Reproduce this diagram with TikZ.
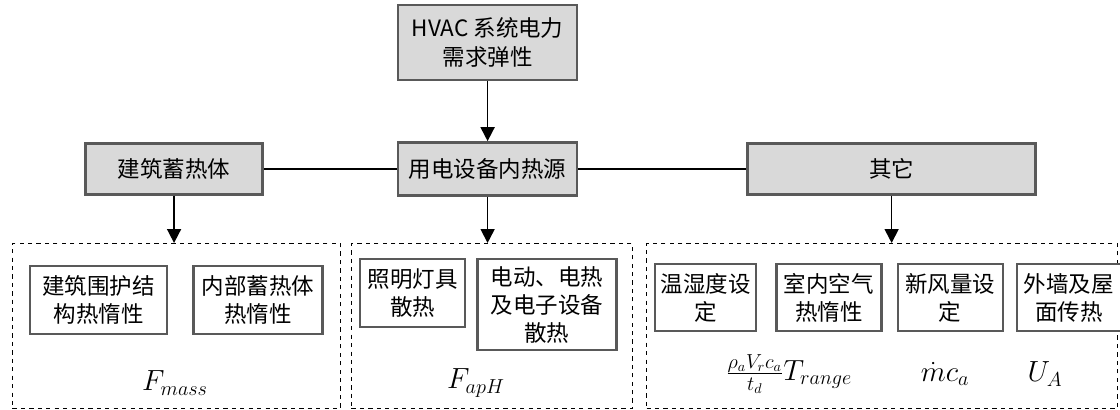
\documentclass[tikz,border=0pt]{standalone}
\usepackage[no-math]{fontspec}
\setmainfont{Noto Sans CJK SC}
\usetikzlibrary{arrows.meta, positioning}
\definecolor{boxgray}{HTML}{D9D9D9}
\definecolor{edgegray}{HTML}{595959}

\begin{document}
\begin{tikzpicture}[
    font=\fontsize{16}{20}\selectfont,
    header/.style={rectangle, draw=edgegray, fill=boxgray, line width=1.8pt, align=center, minimum height=1.275cm},
    factor/.style={rectangle, draw=edgegray, fill=white, line width=1.6pt, align=center, inner sep=2pt, minimum height=1.7cm},
    group/.style={rectangle, draw, dashed, line width=0.7pt, minimum height=4.125cm, anchor=north west},
    formula/.style={font=\fontsize{20}{24}\selectfont, inner sep=0pt},
    arrow/.style={-{Triangle[length=0.35cm, width=0.35cm]}, line width=1.2pt},
    link/.style={line width=1.2pt}
]
    \useasboundingbox (0,0) rectangle (28,-10.25);

    % Top level
    \node[header, minimum width=4.475cm, minimum height=1.875cm] (hvac) at (12.19,-1.06) {HVAC 系统电力\\需求弹性};
    \node[header, minimum width=4.475cm, minimum height=1.325cm, below=1.5cm of hvac] (inner) {用电设备内热源};
    \node[header, minimum width=4.425cm, left=3.325cm of inner] (store) {建筑蓄热体};
    \node[header, minimum width=7.2cm, right=4.2cm of inner] (other) {其它};

    % Groups
    \node[group, minimum width=8.2cm] (grpL) at (0.3,-6.075) {};
    \node[group, minimum width=7.025cm] (grpM) at (8.775,-6.075) {};
    \node[group, minimum width=11.775cm] (grpR) at (16.15,-6.075) {};

    % Left group: thermal mass
    \node[factor, minimum width=3.425cm, anchor=north west] (envelope) at ([shift={(0.425,-0.55)}]grpL.north west) {建筑围护结\\构热惰性};
    \node[factor, minimum width=3.225cm, right=0.6cm of envelope] (mass) {内部蓄热体\\热惰性};
    \node[formula] (fmass) at (4.375,-9.575) {$F_{mass}$};

    % Middle group: internal heat sources
    \node[factor, minimum width=2.625cm, anchor=north west] (light) at ([shift={(0.2,-0.375)}]grpM.north west) {照明灯具\\散热};
    \node[factor, minimum width=3.475cm, minimum height=2.275cm, right=0.25cm of light.north east, anchor=north west] (equip) {电动、电热\\及电子设备\\散热};
    \node[formula] (fapH) at (11.9,-9.575) {$F_{apH}$};

    % Right group: others
    \node[factor, minimum width=2.525cm, minimum height=1.675cm, anchor=north west] (setpt) at ([shift={(0.2,-0.5)}]grpR.north west) {温湿度设\\定};
    \node[factor, minimum width=2.625cm, minimum height=1.675cm, right=0.45cm of setpt] (air) {室内空气\\热惰性};
    \node[factor, minimum width=2.625cm, minimum height=1.675cm, right=0.35cm of air] (fresh) {新风量设\\定};
    \node[factor, minimum width=2.6cm, minimum height=1.675cm, right=0.3cm of fresh] (wall) {外墙及屋\\面传热};
    \node[formula] (fair) at (19.725,-9.35) {$\frac{\rho_a V_r c_a}{t_d}T_{range}$};
    \node[formula] (ffresh) at (23.625,-9.35) {$\dot{m}c_a$};
    \node[formula] (fwall) at (26.125,-9.35) {$U_A$};

    % Connections
    \draw[arrow] (hvac) -- (inner);
    \draw[link] (store) -- (inner);
    \draw[link] (inner) -- (other);
    \draw[arrow] (store) -- (store |- grpL.north);
    \draw[arrow] (inner) -- (inner |- grpM.north);
    \draw[arrow] (other) -- (other |- grpR.north);

\end{tikzpicture}
\end{document}
